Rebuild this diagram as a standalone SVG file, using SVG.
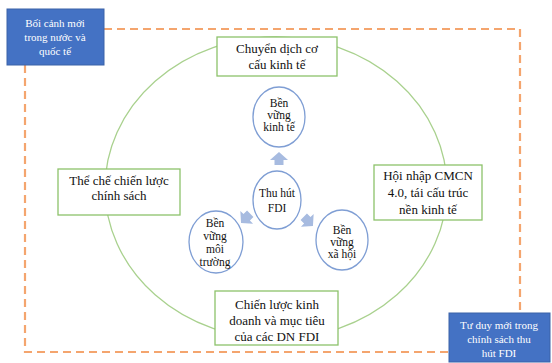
<svg xmlns="http://www.w3.org/2000/svg" width="552" height="363" viewBox="0 0 552 363">
<style>
.dash{fill:none;stroke:#F4A56E;stroke-width:2.2;stroke-dasharray:8 5}
.gbox{fill:#fff;stroke:#8DC26A;stroke-width:1.3}
.bbox{fill:#4472C4;stroke:#3A62A8;stroke-width:1}
.circ{fill:#fff;stroke:#7F9ED4;stroke-width:1.3}
.t{font-family:"Liberation Serif","Times New Roman",serif;font-size:13px;fill:#111;text-anchor:middle}
.tc{font-family:"Liberation Serif","Times New Roman",serif;font-size:11.5px;fill:#111;text-anchor:middle}
.tw{font-family:"Liberation Serif","Times New Roman",serif;font-size:11px;fill:#fff;text-anchor:middle}
.arr{fill:#A7BBE0}
</style>
<defs>
<path id="ar" d="M0,-7 L9,1 L4.5,1 L4.5,6 L-4.5,6 L-4.5,1 L-9,1 Z"/>
</defs>
<rect width="552" height="363" fill="#fff"/>
<g id="connectors">
<path class="dash" d="M104,29 H520 V313"/>
<path class="dash" d="M25,65 V352 H449"/>
<ellipse cx="276" cy="188" rx="171" ry="151" fill="none" stroke="#A9D18E" stroke-width="1.3"/>
<use href="#ar" class="arr" transform="translate(279,159)"/>
<use href="#ar" class="arr" transform="translate(246,218) rotate(-135)"/>
<use href="#ar" class="arr" transform="translate(308,221) rotate(135)"/>
</g>
<g id="n-boicanh">
<rect class="bbox" x="7" y="9" width="97" height="56"/>
<text class="tw" x="55" y="27">Bối cảnh mới</text>
<text class="tw" x="55" y="41">trong nước và</text>
<text class="tw" x="55" y="55">quốc tế</text>
</g>
<g id="n-tuduy">
<rect class="bbox" x="449" y="313" width="101" height="49"/>
<text class="tw" x="499" y="329">Tư duy mới trong</text>
<text class="tw" x="499" y="343">chính sách thu</text>
<text class="tw" x="499" y="357">hút FDI</text>
</g>
<g id="n-chuyendich">
<rect class="gbox" x="217" y="37" width="120" height="39"/>
<text class="t" x="277" y="53">Chuyển dịch cơ</text>
<text class="t" x="277" y="69">cấu kinh tế</text>
</g>
<g id="n-theche">
<rect class="gbox" x="58" y="169" width="122" height="46"/>
<text class="t" x="119" y="185">Thể chế chiến lược</text>
<text class="t" x="119" y="200">chính sách</text>
</g>
<g id="n-hoinhap">
<rect class="gbox" x="374" y="165" width="108" height="55"/>
<text class="t" x="428" y="180">Hội nhập CMCN</text>
<text class="t" x="428" y="197">4.0, tái cấu trúc</text>
<text class="t" x="428" y="214">nền kinh tế</text>
</g>
<g id="n-chienluoc">
<rect class="gbox" x="215" y="291" width="123" height="54"/>
<text class="t" x="277" y="309">Chiến lược kinh</text>
<text class="t" x="277" y="325">doanh và mục tiêu</text>
<text class="t" x="277" y="341">của các DN FDI</text>
</g>
<g id="n-kinhte">
<ellipse class="circ" cx="279" cy="117" rx="26" ry="30"/>
<text class="tc" x="279" y="107">Bền</text>
<text class="tc" x="279" y="119">vững</text>
<text class="tc" x="279" y="131">kinh tế</text>
</g>
<g id="n-fdi">
<ellipse class="circ" cx="277" cy="200" rx="24" ry="29"/>
<text class="tc" x="277" y="197">Thu hút</text>
<text class="tc" x="277" y="212">FDI</text>
</g>
<g id="n-moitruong">
<ellipse class="circ" cx="216" cy="242" rx="27" ry="31"/>
<text class="tc" x="215" y="227">Bền</text>
<text class="tc" x="215" y="240">vững</text>
<text class="tc" x="215" y="253">môi</text>
<text class="tc" x="215" y="266">trường</text>
</g>
<g id="n-xahoi">
<ellipse class="circ" cx="342" cy="240" rx="26" ry="30"/>
<text class="tc" x="342" y="234">Bền</text>
<text class="tc" x="342" y="246">vững</text>
<text class="tc" x="342" y="258">xã hội</text>
</g>
</svg>
